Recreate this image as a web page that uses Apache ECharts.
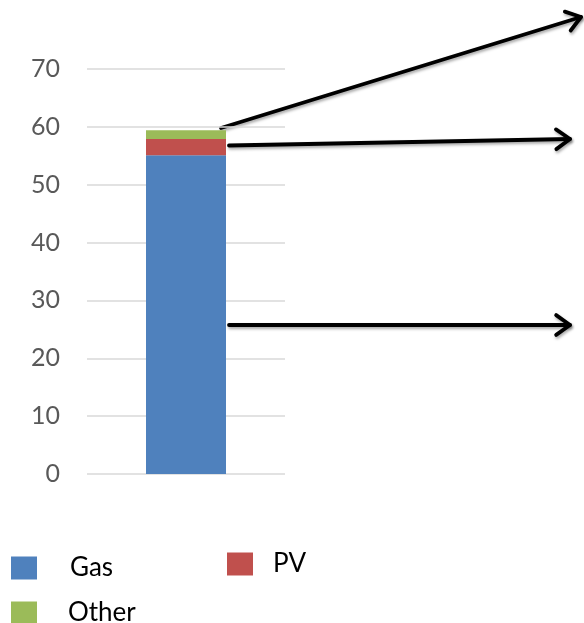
<!DOCTYPE html>
<html><head><meta charset="utf-8">
<script src="https://cdn.jsdelivr.net/npm/echarts@6/dist/echarts.min.js"></script>
<style>html,body{margin:0;padding:0;background:#fff}#c{width:584px;height:623px}</style>
</head><body><div id="c"></div>
<script>
const categories = [''];
const gasValues = [55.1];
const pvValues = [2.8];
const otherValues = [1.5];
const yTicks = [0, 10, 20, 30, 40, 50, 60, 70];

const FONT = 'Lato';
const chart = echarts.init(document.getElementById('c'), null, {renderer: 'canvas'});

function arrow(x1, y1, x2, y2) {
  const ang = Math.atan2(y2 - y1, x2 - x1);
  const L = 17, a = 0.62;
  const p1 = [x2 - L * Math.cos(ang - a), y2 - L * Math.sin(ang - a)];
  const p2 = [x2 - L * Math.cos(ang + a), y2 - L * Math.sin(ang + a)];
  const style = {stroke: '#000', lineWidth: 3.8, lineCap: 'round', lineJoin: 'round',
    shadowColor: 'rgba(0,0,0,0.35)', shadowBlur: 3, shadowOffsetX: 1, shadowOffsetY: 2};
  return [
    {type: 'line', shape: {x1, y1, x2, y2}, style},
    {type: 'polyline', shape: {points: [p1, [x2, y2], p2]}, style}
  ];
}

const legendBase = {
  itemWidth: 26, itemHeight: 23, icon: 'rect', orient: 'horizontal', padding: 0,
  textStyle: {fontFamily: FONT, fontSize: 26, color: '#000'}
};

chart.setOption({
  animation: false,
  grid: {left: 87, right: 299, top: 69, bottom: 149},
  xAxis: {type: 'category', data: categories, axisLine: {show: false}, axisTick: {show: false}, axisLabel: {show: false}},
  yAxis: {type: 'value', min: yTicks[0], max: yTicks[yTicks.length - 1], interval: 10,
    axisLine: {show: false}, axisTick: {show: false},
    axisLabel: {color: '#595959', fontFamily: FONT, fontSize: 25, margin: 27},
    splitLine: {lineStyle: {color: '#D9D9D9', width: 1.5}}},
  legend: [
    Object.assign({}, legendBase, {data: ['Gas'], left: 11, top: 555, textStyle: Object.assign({}, legendBase.textStyle, {padding: [0, 0, 0, 28]})}),
    Object.assign({}, legendBase, {data: ['PV'], left: 227, top: 551, textStyle: Object.assign({}, legendBase.textStyle, {padding: [0, 0, 0, 15]})}),
    Object.assign({}, legendBase, {data: ['Other'], left: 11, top: 600, textStyle: Object.assign({}, legendBase.textStyle, {padding: [0, 0, 0, 26]})})
  ],
  series: [
    {name: 'Gas', type: 'bar', stack: 's', data: gasValues, barWidth: 80, itemStyle: {color: '#4F81BD'}},
    {name: 'PV', type: 'bar', stack: 's', data: pvValues, barWidth: 80, itemStyle: {color: '#C0504D'}},
    {name: 'Other', type: 'bar', stack: 's', data: otherValues, barWidth: 80, itemStyle: {color: '#9BBB59'}}
  ],
  graphic: [].concat(
    arrow(221, 128, 581, 17),
    arrow(229, 145.5, 570, 139),
    arrow(229, 325, 570, 325)
  )
});
</script></body></html>
